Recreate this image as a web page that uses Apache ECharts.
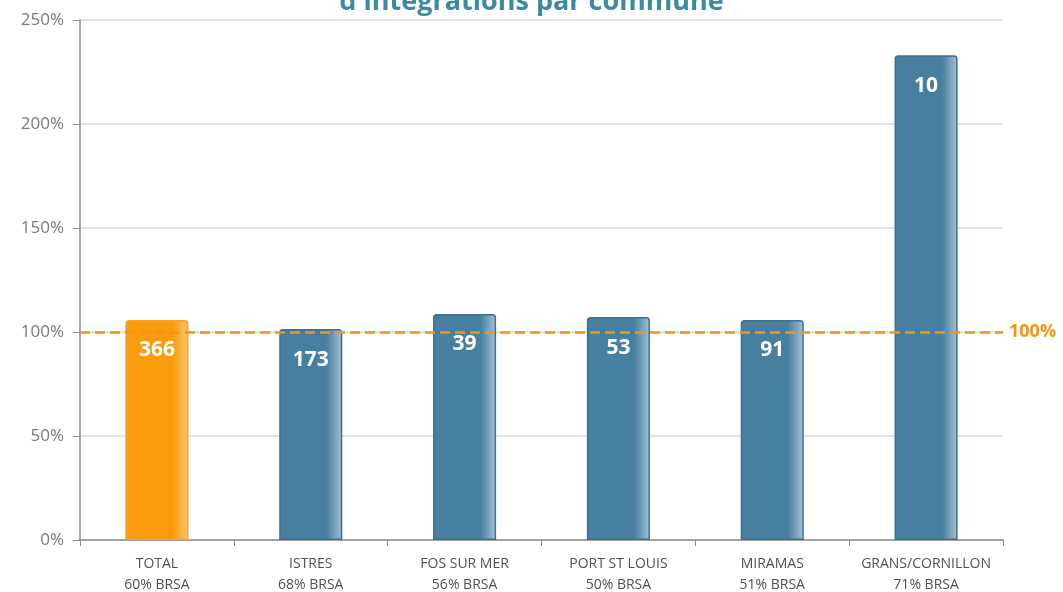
<!DOCTYPE html>
<html lang="fr">
<head>
    <meta charset="UTF-8">
    <title>intégrations par commune</title>
    <script src="https://cdn.jsdelivr.net/npm/echarts@6/dist/echarts.min.js"></script>
</head>
<body style="margin:0;background:#fff">
<div id="main" style="width: 1063px;height:592px;"></div>
<script>
    const communes = ['TOTAL', 'ISTRES', 'FOS SUR MER', 'PORT ST LOUIS', 'MIRAMAS', 'GRANS/CORNILLON'];
    const brsa = ['60% BRSA', '68% BRSA', '56% BRSA', '50% BRSA', '51% BRSA', '71% BRSA'];
    const taux = [105.8, 101.4, 108.7, 107.2, 105.8, 233];
    const effectifs = [366, 173, 39, 53, 91, 10];
    const objectif = 100;

    function barColor(base, light) {
        return new echarts.graphic.LinearGradient(0, 0, 1, 0, [
            {offset: 0, color: base},
            {offset: 0.75, color: base},
            {offset: 1, color: light}
        ]);
    }

    const myChart = echarts.init(document.getElementById('main'));
    const option = {
        animation: false,
        title: {
            text: "d'intégrations par commune",
            left: 'center',
            top: -16,
            textStyle: {
                color: '#3a8aa3',
                fontSize: 27,
                fontWeight: 'bold',
                fontFamily: 'Open Sans'
            }
        },
        grid: {left: 80, right: 60, top: 20, bottom: 52, outerBoundsMode: 'none'},
        xAxis: {
            type: 'category',
            data: communes.map(function (c, i) { return c + '\n' + brsa[i]; }),
            axisLine: {lineStyle: {color: '#8c8c8c', width: 1.5}},
            axisTick: {show: true, interval: 0, length: 6, lineStyle: {color: '#8c8c8c'}},
            axisLabel: {
                interval: 0,
                color: '#505050',
                fontSize: 14,
                lineHeight: 21,
                margin: 14,
                fontFamily: 'Open Sans'
            }
        },
        yAxis: {
            type: 'value',
            min: 0,
            max: 250,
            interval: 50,
            axisLine: {show: true, lineStyle: {color: '#8c8c8c', width: 1.5}},
            axisTick: {show: true, length: 7, lineStyle: {color: '#8c8c8c'}},
            axisLabel: {
                formatter: '{value}%',
                color: '#7a7a7a',
                fontSize: 17,
                margin: 16,
                fontFamily: 'Open Sans'
            },
            splitLine: {lineStyle: {color: '#d9d9d9', width: 1.5}}
        },
        series: [{
            type: 'bar',
            barWidth: '41%',
            data: taux.map(function (v, i) {
                const isTotal = i === 0;
                return {
                    value: v,
                    itemStyle: {
                        color: isTotal ? barColor('#f99b0c', '#fcc66f') : barColor('#467fa0', '#a6c2d2'),
                        borderColor: isTotal ? '#f6a12a' : '#3d7192',
                        borderWidth: 1.5,
                        borderRadius: [3, 3, 0, 0]
                    }
                };
            }),
            label: {
                show: true,
                position: 'insideTop',
                distance: 20,
                formatter: function (p) { return effectifs[p.dataIndex]; },
                color: '#ffffff',
                fontSize: 21,
                fontWeight: 'bold',
                fontFamily: 'Open Sans'
            },
            markLine: {
                symbol: 'none',
                silent: true,
                lineStyle: {color: '#f7940f', type: [10, 5], width: 2.5},
                label: {
                    position: 'end',
                    formatter: '100%',
                    color: '#f7940f',
                    fontSize: 18,
                    fontWeight: 'bold',
                    distance: 6,
                    fontFamily: 'Open Sans'
                },
                data: [{yAxis: objectif}]
            }
        }]
    };
    myChart.setOption(option);
</script>
</body>
</html>
